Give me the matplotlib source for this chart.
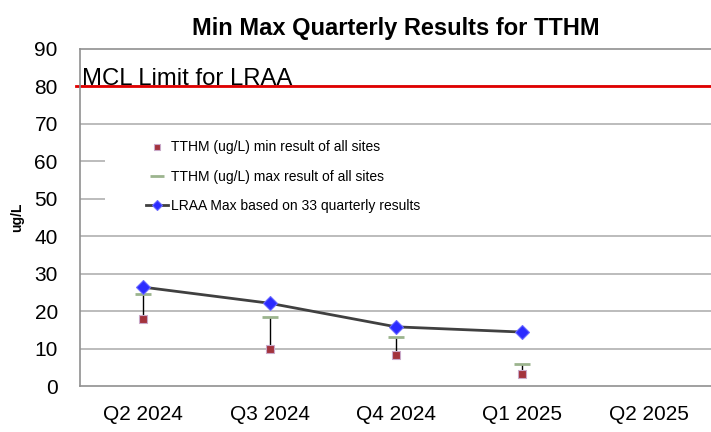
import numpy as np
import matplotlib
matplotlib.use("Agg")
import matplotlib.pyplot as plt
from matplotlib.patches import Rectangle
import matplotlib.transforms as mtransforms

plt.rcParams['font.family'] = ['Liberation Sans', 'DejaVu Sans']

# data
quarters = ["Q2 2024", "Q3 2024", "Q4 2024", "Q1 2025", "Q2 2025"]
tthm_min = [17.9, 9.9, 8.2, 3.2, np.nan]
tthm_max = [24.5, 18.4, 13.2, 5.8, np.nan]
lraa_max = [26.4, 22.1, 15.8, 14.4, np.nan]
mcl_limit = 80

x = np.arange(len(quarters))

fig = plt.figure(figsize=(7.11, 4.32), dpi=100)
ax = fig.add_axes([80/711, 1 - 386/432, 632/711, (386 - 49)/432])

# gridlines
for v in range(10, 90, 10):
    ax.axhline(v, color='#b0b0b0', lw=1.2, zorder=0)

# white legend background covering some gridlines
trans = mtransforms.blended_transform_factory(ax.transAxes, ax.transData)
ax.add_patch(Rectangle((0.04, 42), 1.0, 26, transform=trans,
                       facecolor='white', edgecolor='none', zorder=1))

# MCL line
ax.axhline(mcl_limit, xmin=-0.006, color='#e00000', lw=2, zorder=2, clip_on=False)
ax.text(0.003, mcl_limit + 0.5, "MCL Limit for LRAA", fontsize=17.2,
        ha='left', va='baseline', transform=trans, zorder=3)

# high-low lines
ax.vlines(x, tthm_min, tthm_max, color='black', lw=1, zorder=3)

ax.plot(x, tthm_min, linestyle='none', marker='s', markersize=5.5,
        markerfacecolor='#a3333d', markeredgecolor='#c9a9c9', markeredgewidth=0.8,
        label='TTHM (ug/L) min result of all sites', zorder=4)
ax.plot(x, tthm_max, linestyle='none', marker='_', markersize=12,
        markeredgewidth=2, color='#9cb48e',
        label='TTHM (ug/L) max result of all sites', zorder=4)
ax.plot(x, lraa_max, color='#404040', lw=2, marker='D', markersize=7,
        markerfacecolor='#2b2bff', markeredgecolor='#6a6aff', markeredgewidth=0.8,
        label='LRAA Max based on 33 quarterly results', zorder=5)

ax.set_xlim(-0.5, 4.5)
ax.set_ylim(0, 90)
ax.set_yticks(range(0, 100, 10))
ax.set_xticks(x)
ax.set_xticklabels(quarters)
ax.tick_params(axis='both', length=0, labelsize=15, pad=14)
ax.tick_params(axis='y', pad=16)

for s in ['left', 'bottom', 'top']:
    ax.spines[s].set_color('#909090')
    ax.spines[s].set_linewidth(1.2)
ax.spines['right'].set_visible(False)

ax.set_ylabel('ug/L', fontsize=10, fontweight='bold')
ax.yaxis.set_label_coords(-0.088, 0.5)

ax.set_title('Min Max Quarterly Results for TTHM', fontsize=17,
             fontweight='bold', pad=10)

ax.legend(loc='upper left', bbox_to_anchor=(0.095, 0.745), frameon=False,
          fontsize=10, handlelength=1.6, handletextpad=0.2, labelspacing=1.1,
          borderaxespad=0, markerscale=0.8)

fig.savefig('out.png', dpi=100)
